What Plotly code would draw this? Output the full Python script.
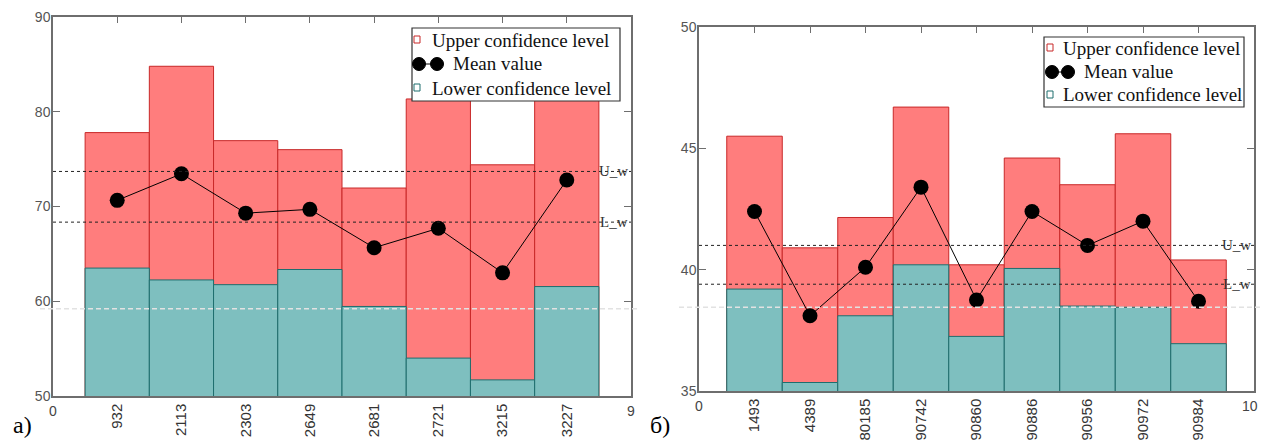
import plotly.graph_objects as go

# ---- data: chart a) ----
cats_a = ["932", "2113", "2303", "2649", "2681", "2721", "3215", "3227"]
upper_a = [77.8, 84.8, 76.95, 76.0, 71.95, 81.35, 74.4, 81.3]
lower_a = [63.5, 62.25, 61.75, 63.35, 59.45, 54.0, 51.7, 61.55]
mean_a = [70.65, 73.45, 69.3, 69.7, 65.65, 67.7, 63.0, 72.8]
uw_a, lw_a, gray_a = 73.7, 68.35, 59.2
yr_a = [50, 90]
yt_a = [50, 60, 70, 80, 90]

# ---- data: chart б) ----
cats_b = ["1493", "4389", "80185", "90742", "90860", "90886", "90956", "90972", "90984"]
upper_b = [45.5, 40.9, 42.15, 46.7, 40.2, 44.6, 43.5, 45.6, 40.4]
lower_b = [39.2, 35.35, 38.1, 40.2, 37.25, 40.05, 38.5, 38.45, 36.95]
mean_b = [42.4, 38.1, 40.1, 43.4, 38.75, 42.4, 41.0, 42.0, 38.7]
uw_b, lw_b, gray_b = 41.0, 39.4, 38.45
yr_b = [35, 50]
yt_b = [35, 40, 45, 50]

legend_labels = ["Upper confidence level", "Mean value", "Lower confidence level"]

RED_F, RED_L = "rgb(255,125,125)", "rgb(200,40,40)"
TEAL_F, TEAL_L = "rgb(126,191,191)", "rgb(30,110,110)"
AX = "#6e6e6e"
SERIF = "Liberation Serif"
SANS = "Liberation Sans"

W, H = 1261, 441
fig = go.Figure()

panels = [
    dict(cats=cats_a, up=upper_a, lo=lower_a, mn=mean_a, uw=uw_a, lw=lw_a, gray=gray_a,
         yr=yr_a, yt=yt_a, xa="x", ya="y",
         px=(53, 631), py=(17, 396), gx=(40, 640), lo_lbl="0", hi_lbl="9", tag="a)", tagx=22,
         lg=dict(box=(412, 28, 620, 101), rows=(40, 64, 88), tx=430, mtx=451, ix=413, mc=(419, 437))),
    dict(cats=cats_b, up=upper_b, lo=lower_b, mn=mean_b, uw=uw_b, lw=lw_b, gray=gray_b,
         yr=yr_b, yt=yt_b, xa="x2", ya="y2",
         px=(699, 1254), py=(27, 391), gx=(679, 1261), lo_lbl="0", hi_lbl="10", tag="б)", tagx=660,
         lg=dict(box=(1044, 37, 1244, 107), rows=(48, 72, 95), tx=1061, mtx=1082, ix=1046, mc=(1052, 1068))),
]


def px_x(v):
    return v / W


def px_y(v):
    return 1 - v / H


shapes, annos = [], []
for i, p in enumerate(panels):
    fig.add_trace(go.Bar(x=p["cats"], y=p["up"], width=1, name=legend_labels[0],
                         marker=dict(color=RED_F, line=dict(color=RED_L, width=1)),
                         xaxis=p["xa"], yaxis=p["ya"]))
    fig.add_trace(go.Bar(x=p["cats"], y=p["lo"], width=1, name=legend_labels[2],
                         marker=dict(color=TEAL_F, line=dict(color=TEAL_L, width=1)),
                         xaxis=p["xa"], yaxis=p["ya"]))
    fig.add_trace(go.Scatter(x=p["cats"], y=p["mn"], mode="lines+markers", name=legend_labels[1],
                             line=dict(color="black", width=1),
                             marker=dict(color="black", size=15),
                             xaxis=p["xa"], yaxis=p["ya"]))
    xd = "x domain" if i == 0 else "x2 domain"
    yref = p["ya"]
    for val in (p["uw"], p["lw"]):
        shapes.append(dict(type="line", xref=xd, yref=yref, x0=0, x1=1, y0=val, y1=val,
                           line=dict(color="#222", width=1, dash="3px,3px"), layer="above"))
    shapes.append(dict(type="line", xref="paper", yref=yref, x0=px_x(p["gx"][0]), x1=px_x(p["gx"][1]),
                       y0=p["gray"], y1=p["gray"],
                       line=dict(color="#e2e2e2", width=1.5, dash="5px,3px"), layer="above"))
    for lbl, val in (("U_w", p["uw"]), ("L_w", p["lw"])):
        annos.append(dict(xref=xd, yref=yref, x=1, y=val, text=lbl, showarrow=False,
                          xanchor="right", yanchor="middle", xshift=-1,
                          font=dict(family=SERIF, size=15, color="#333")))
    ybot = px_y(p["py"][1])
    annos.append(dict(xref=xd, yref="paper", x=0, y=ybot, yshift=-5, text=p["lo_lbl"], showarrow=False,
                      xanchor="center", yanchor="top", font=dict(family=SANS, size=14, color="#444")))
    hi = dict(xref=xd, yref="paper", x=1, y=ybot, yshift=-5, text=p["hi_lbl"], showarrow=False,
              xanchor="center", yanchor="top", font=dict(family=SANS, size=14, color="#444"))
    if i == 1:
        hi.update(xanchor="right", xshift=6)
    annos.append(hi)
    annos.append(dict(xref="paper", yref="paper", x=px_x(p["tagx"]), y=px_y(425), text=p["tag"],
                      showarrow=False, xanchor="center", yanchor="middle",
                      font=dict(family=SERIF, size=24, color="black")))

    # ---- legend (drawn by hand to match the original's compact style) ----
    lg = p["lg"]
    bx0, by0, bx1, by1 = lg["box"]
    shapes.append(dict(type="rect", xref="paper", yref="paper",
                       x0=px_x(bx0), x1=px_x(bx1), y0=px_y(by1), y1=px_y(by0),
                       fillcolor="white", line=dict(color="#333", width=1.2), layer="above"))
    for r, (fc, lc) in ((0, (RED_F, RED_L)), (2, (TEAL_F, TEAL_L))):
        cy = lg["rows"][r]
        shapes.append(dict(type="rect", xref="paper", yref="paper",
                           x0=px_x(lg["ix"] + 1), x1=px_x(lg["ix"] + 7), y0=px_y(cy + 3), y1=px_y(cy - 4),
                           fillcolor="white", line=dict(color=lc, width=1), layer="above"))
        annos.append(dict(xref="paper", yref="paper", x=px_x(lg["tx"]), y=px_y(cy),
                          text=legend_labels[r], showarrow=False, xanchor="left", yanchor="middle",
                          font=dict(family=SERIF, size=19, color="#111")))
    cy = lg["rows"][1]
    c0, c1 = lg["mc"]
    shapes.append(dict(type="line", xref="paper", yref="paper", x0=px_x(c0), x1=px_x(c1),
                       y0=px_y(cy), y1=px_y(cy), line=dict(color="black", width=1), layer="above"))
    for c in (c0, c1):
        shapes.append(dict(type="circle", xref="paper", yref="paper",
                           x0=px_x(c - 6.5), x1=px_x(c + 6.5), y0=px_y(cy + 6.5), y1=px_y(cy - 6.5),
                           fillcolor="black", line=dict(color="black", width=1), layer="above"))
    annos.append(dict(xref="paper", yref="paper", x=px_x(lg["mtx"]), y=px_y(cy),
                      text=legend_labels[1], showarrow=False, xanchor="left", yanchor="middle",
                      font=dict(family=SERIF, size=19, color="#111")))

    n = len(p["cats"])
    xaxis = dict(domain=[px_x(p["px"][0]), px_x(p["px"][1])], anchor=p["ya"], type="category",
                 range=[-1, n], showline=True, linecolor=AX, linewidth=1.5, mirror="ticks",
                 ticks="inside", ticklen=6, tickcolor=AX, tickwidth=1.2,
                 tickangle=-90, tickfont=dict(family=SANS, size=15, color="#333"),
                 showgrid=False, zeroline=False, layer="below traces", fixedrange=True,
                 automargin=False)
    yaxis = dict(domain=[px_y(p["py"][1]), px_y(p["py"][0])], anchor=p["xa"],
                 range=p["yr"], tickvals=p["yt"], showline=True, linecolor=AX, linewidth=1.5,
                 mirror="ticks", ticks="inside", ticklen=7, tickcolor=AX, tickwidth=1.2,
                 tickfont=dict(family=SANS, size=14, color="#555"), ticklabelstandoff=-2,
                 showgrid=False, zeroline=False, layer="below traces", fixedrange=True,
                 automargin=False)
    if i == 0:
        fig.update_layout(xaxis=xaxis, yaxis=yaxis)
    else:
        fig.update_layout(xaxis2=xaxis, yaxis2=yaxis)

fig.update_layout(
    width=W, height=H, margin=dict(l=0, r=0, t=0, b=0),
    paper_bgcolor="white", plot_bgcolor="white",
    barmode="overlay", showlegend=False, hovermode=False,
    shapes=shapes, annotations=annos,
)

fig.write_html("out.html", config={"displayModeBar": False},
               post_script="document.body.style.margin='0px';")
